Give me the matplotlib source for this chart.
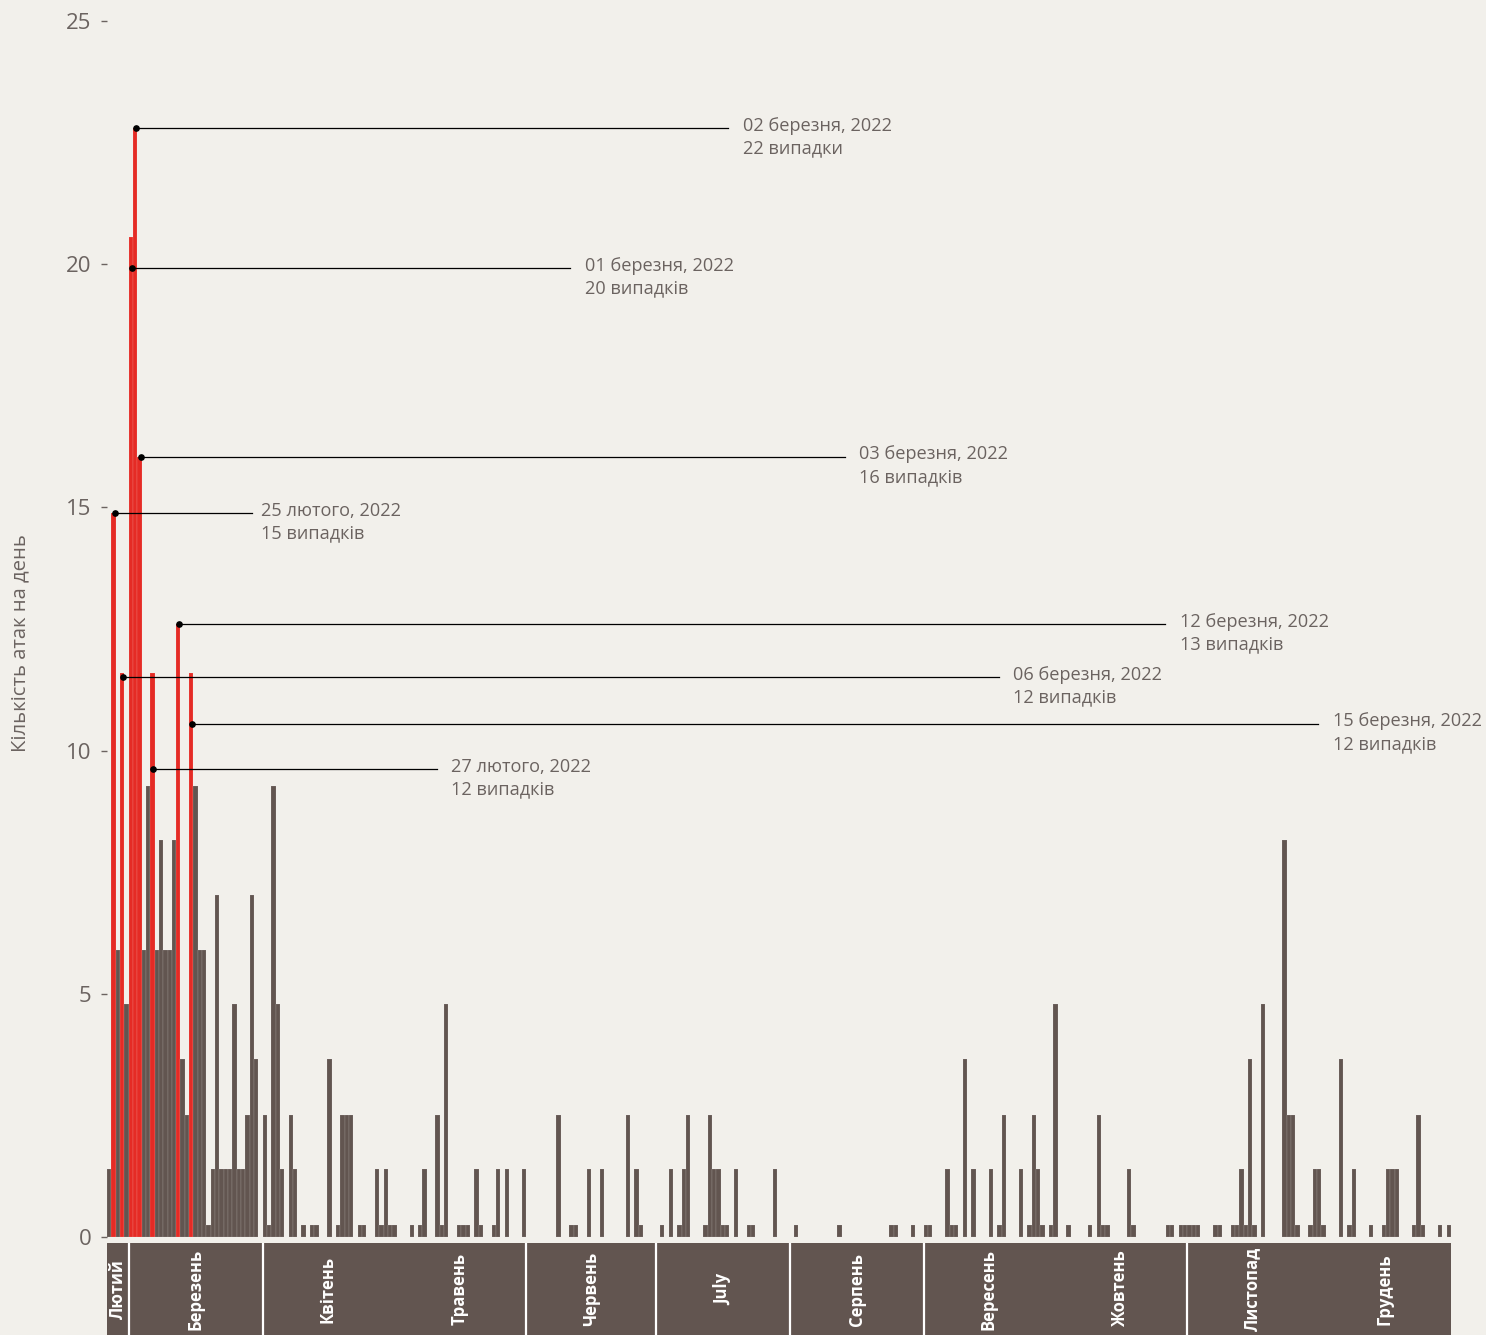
import numpy as np
import matplotlib.pyplot as plt

plt.rcParams['font.family'] = ['Open Sans', 'DejaVu Sans']

# daily attack counts as drawn (bar heights in axis units), 24 Feb - 31 Dec 2022
feb = [1.4, 14.88, 5.9, 11.6, 4.79]
mar = [20.56, 22.8, 16.04, 5.9, 9.27, 11.6, 5.9, 8.16, 5.9, 5.9, 8.16, 12.6, 3.66, 2.5, 11.6, 9.27,
       5.9, 5.9, 0.25, 1.4, 7.03, 1.4, 1.4, 1.4, 4.79, 1.4, 1.4, 2.5, 7.03, 3.66, 0]
apr = [2.5, 0.25, 9.27, 4.79, 1.4, 0, 2.5, 1.4, 0, 0.25, 0, 0.25, 0.25, 0, 0, 3.66, 0, 0.25, 2.5, 2.5,
       2.5, 0, 0.25, 0.25, 0, 0, 1.4, 0.25, 1.4, 0.25]
may = [0.25, 0, 0, 0, 0.25, 0, 0.25, 1.4, 0, 0, 2.5, 0.25, 4.79, 0, 0, 0.25, 0.25, 0.25, 0, 1.4,
       0.25, 0, 0, 0.25, 1.4, 0, 1.4, 0, 0, 0, 1.4]
jun = [0, 0, 0, 0, 0, 0, 0, 2.5, 0, 0, 0.25, 0.25, 0, 0, 1.4, 0, 0, 1.4, 0, 0, 0, 0, 0, 2.5, 0,
       1.4, 0.25, 0, 0, 0]
jul = [0, 0.25, 0, 1.4, 0, 0.25, 1.4, 2.5, 0, 0, 0, 0.25, 2.5, 1.4, 1.4, 0.25, 0.25, 0, 1.4, 0, 0,
       0.25, 0.25, 0, 0, 0, 0, 1.4, 0, 0, 0]
aug = [0, 0.25, 0, 0, 0, 0, 0, 0, 0, 0, 0, 0.25, 0, 0, 0, 0, 0, 0, 0, 0, 0, 0, 0, 0.25, 0.25, 0, 0,
       0, 0.25, 0, 0]
sep = [0.25, 0.25, 0, 0, 0, 1.4, 0.25, 0.25, 0, 3.66, 0, 1.4, 0, 0, 0, 1.4, 0, 0.25, 2.5, 0, 0, 0,
       1.4, 0, 0.25, 2.5, 1.4, 0.25, 0, 0.25]
oct_ = [4.79, 0, 0, 0.25, 0, 0, 0, 0, 0.25, 0, 2.5, 0.25, 0.25, 0, 0, 0, 0, 1.4, 0.25, 0, 0, 0, 0,
        0, 0, 0, 0.25, 0.25, 0, 0.25, 0.25]
nov = [0.25, 0.25, 0.25, 0, 0, 0, 0.25, 0.25, 0, 0, 0.25, 0.25, 1.4, 0.25, 3.66, 0.25, 0, 4.79, 0,
       0, 0, 0, 8.16, 2.5, 2.5, 0.25, 0, 0, 0.25, 1.4]
dec = [1.4, 0.25, 0, 0, 0, 3.66, 0, 0.25, 1.4, 0, 0, 0, 0.25, 0, 0, 0.25, 1.4, 1.4, 1.4, 0, 0, 0,
       0.25, 2.5, 0.25, 0, 0, 0, 0.25, 0, 0.25]

month_data = [feb, mar, apr, may, jun, jul, aug, sep, oct_, nov, dec]
month_names = ['Лютий', 'Березень', 'Квітень', 'Травень', 'Червень', 'July',
               'Серпень', 'Вересень', 'Жовтень', 'Листопад', 'Грудень']
# month boundaries that show a white divider in the band (index of the month that starts there)
divider_months = [1, 2, 4, 5, 6, 7, 9]

red_days = [1, 3, 5, 6, 7, 10, 16, 19]

ann_dates = ['02 березня, 2022', '01 березня, 2022', '03 березня, 2022', '25 лютого, 2022',
             '12 березня, 2022', '06 березня, 2022', '15 березня, 2022', '27 лютого, 2022']
ann_counts = ['22 випадки', '20 випадків', '16 випадків', '15 випадків',
              '13 випадків', '12 випадків', '12 випадків', '12 випадків']
ann_x = [6.71, 5.79, 7.87, 1.85, 16.67, 3.7, 19.68, 10.65]
ann_y = [22.8, 19.92, 16.04, 14.88, 12.6, 11.51, 10.55, 9.62]
ann_end = [143.8, 107.2, 170.8, 33.6, 244.9, 206.3, 280.3, 76.4]
ann_text_x = [147.2, 110.6, 174.1, 35.6, 248.4, 209.7, 283.6, 79.6]

bg = '#f2f0eb'
brown = '#625550'
red = '#e52b25'
grey = '#6b6360'

daily = np.concatenate([np.array(m, dtype=float) for m in month_data])
days = np.arange(len(daily))
colors = [red if d in red_days else brown for d in days]

fig = plt.figure(figsize=(14.86, 13.35), dpi=100, facecolor=bg)
ax = fig.add_axes([107 / 1486, 98 / 1335, 1344 / 1486, 1216 / 1335])
ax.set_facecolor(bg)

ax.bar(days, daily, width=1, align='edge', color=colors,
       edgecolor=(1, 1, 1, 0.25), linewidth=0.35)

ax.set_xlim(0, len(daily))
ax.set_ylim(0, 25)
ax.set_yticks([0, 5, 10, 15, 20, 25])
ax.set_xticks([])
ax.tick_params(axis='y', length=4, width=1, color=grey, pad=7, labelsize=16, labelcolor=grey)
for s in ax.spines.values():
    s.set_visible(False)
fig.text(20 / 1486, (1335 - 643) / 1335, 'Кількість атак на день', rotation=90,
         ha='center', va='center', fontsize=14.6, color=grey)

# annotations
for date, cnt, x, y, xe, xt in zip(ann_dates, ann_counts, ann_x, ann_y, ann_end, ann_text_x):
    ax.plot([x, xe], [y, y], color='black', lw=0.9, zorder=3)
    ax.plot(x, y, 'o', color='black', ms=3.8, zorder=4)
    ax.text(xt, y + 0.05, date, fontsize=13.1, color=grey, va='center', ha='left')
    ax.text(xt, y - 0.42, cnt, fontsize=13.1, color=grey, va='center', ha='left')

# month band
band = fig.add_axes([107 / 1486, 0, 1344 / 1486, 92 / 1335])
band.set_xlim(0, len(daily))
band.set_ylim(0, 1)
band.axis('off')
band.axvspan(0, len(daily), color=brown)
starts = np.cumsum([0] + [len(m) for m in month_data])
for i in divider_months:
    band.axvline(starts[i], color='white', lw=1.6)
for i, name in enumerate(month_names):
    mid = (starts[i] + starts[i + 1]) / 2
    band.text(mid, 0.5, name, rotation=90, ha='center', va='center',
              color='white', fontsize=12, fontweight='bold')

fig.savefig('out.png', dpi=100, facecolor=bg)
